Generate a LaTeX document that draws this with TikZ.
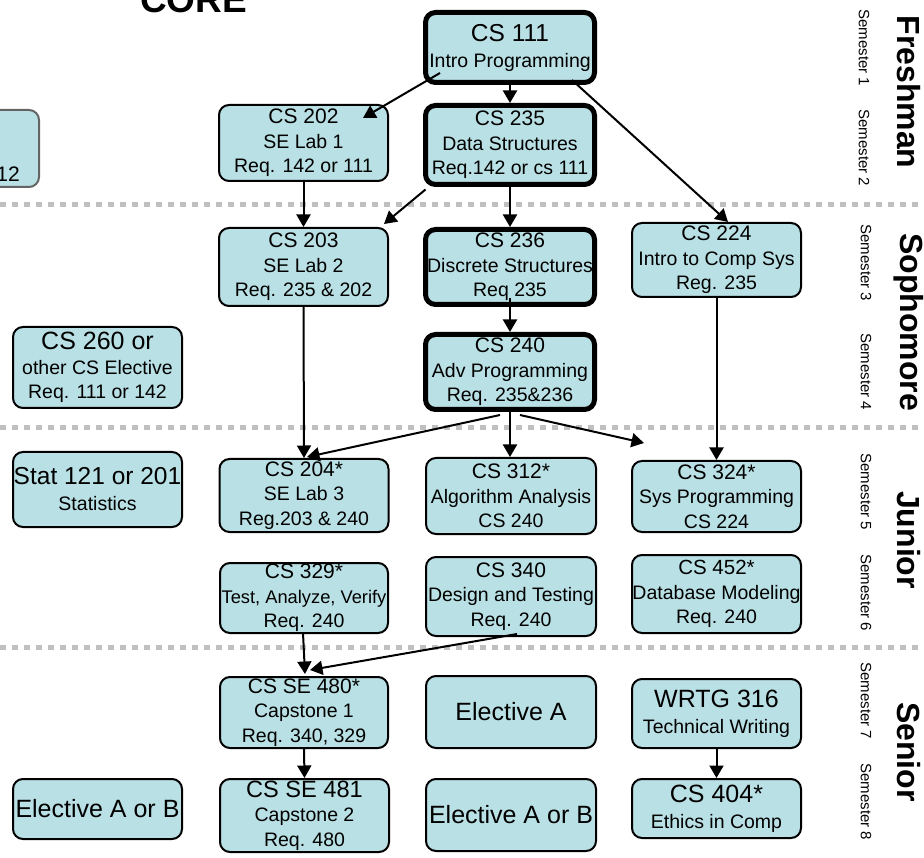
\documentclass[tikz,border=0pt]{standalone}
\usepackage{fontspec}
\setmainfont{Liberation Sans}
\usetikzlibrary{arrows.meta,calc}
\definecolor{boxfill}{RGB}{185,224,228}
\definecolor{sepgray}{RGB}{192,192,192}
\definecolor{edgegray}{RGB}{100,100,100}
\newcommand\fs[2]{\fontsize{#1}{#2}\selectfont}
\begin{document}
\begin{tikzpicture}[x=1pt,y=-1pt,
  box/.style={draw, line width=2pt, rounded corners=10pt, fill=boxfill, inner sep=0pt, align=center, font=\fs{19.5}{24.5}},
  twoline/.style={font=\fs{19.5}{26}},
  thickbox/.style={box, line width=5pt},
  arr/.style={line width=2pt, -{Triangle[length=12.5pt,width=14pt]}},
  sepline/.style={draw=sepgray, line width=5pt, dash pattern=on 6pt off 6pt},
  sem/.style={rotate=-90, font=\fs{15}{18}, inner sep=0pt},
  year/.style={rotate=-90, font=\bfseries\fs{32}{36}, inner sep=0pt},
]
\useasboundingbox (0,0) rectangle (924,858);
\clip (0,0) rectangle (924,858);

% separators
\draw[sepline] (0,205) -- (924,205);
\draw[sepline] (0,428) -- (924,428);
\draw[sepline] (0,647) -- (924,647);

% title
\node[anchor=base, font=\bfseries\fs{37}{40}, inner sep=0pt] (core) at (193.5,13) {CORE};

% partial box at left
\node[box, draw=edgegray, minimum width=169pt, minimum height=77pt] (prev) at (-45.5,148.5) {};
\node[anchor=base east, font=\fs{21}{24}, inner sep=0pt] (prevtxt) at (20,182) {12};

% boxes
\node[thickbox, twoline, minimum width=169pt, minimum height=70pt] (n111) at (510,47.5) {{\fs{24.5}{26}CS 111}\\Intro Programming};
\node[box, minimum width=169pt, minimum height=76pt] (n202) at (303.5,143) {{\fs{21}{24}CS 202}\\SE Lab 1\\Req. 142 or 111};
\node[thickbox, minimum width=169pt, minimum height=79pt] (n235) at (510,145) {{\fs{21}{24}CS 235}\\Data Structures\\Req.142 or cs 111};
\node[box, minimum width=169pt, minimum height=78pt] (n203) at (303.5,267) {{\fs{21}{24}CS 203}\\SE Lab 2\\Req. 235 \& 202};
\node[thickbox, minimum width=169pt, minimum height=75pt] (n236) at (510,267) {{\fs{21}{24}CS 236}\\Discrete Structures\\Req 235};
\node[box, minimum width=169pt, minimum height=74pt] (n224) at (716.5,260) {{\fs{21}{24}CS 224}\\Intro to Comp Sys\\Reg. 235};
\node[box, minimum width=169pt, minimum height=81pt] (n260) at (97.5,367.5) {{\fs{25}{24}CS 260 or}\\other CS Elective\\Req. 111 or 142};
\node[thickbox, minimum width=169pt, minimum height=75pt] (n240) at (510,372) {{\fs{21}{24}CS 240}\\Adv Programming\\Req. 235\&236};
\node[box, twoline, minimum width=169pt, minimum height=75pt] (nstat) at (97.5,489.5) {{\fs{24.5}{26}Stat 121 or 201}\\Statistics};
\node[box, minimum width=169pt, minimum height=73pt] (n204) at (304,495.5) {{\fs{21}{24}CS 204*}\\SE Lab 3\\Reg.203 \& 240};
\node[box, minimum width=170pt, minimum height=76pt] (n312) at (511,496) {{\fs{21}{24}CS 312*}\\Algorithm Analysis\\CS 240};
\node[box, minimum width=169pt, minimum height=71pt] (n324) at (716.5,496.5) {{\fs{21}{24}CS 324*}\\Sys Programming\\CS 224};
\node[box, minimum width=168pt, minimum height=70pt] (n329) at (304,598) {{\fs{21}{24}CS 329*}\\{\fs{18.3}{24}Test, Analyze, Verify}\\Req. 240};
\node[box, minimum width=170pt, minimum height=79pt] (n340) at (511,596.5) {{\fs{21}{24}CS 340}\\Design and Testing\\Req. 240};
\node[box, minimum width=169pt, minimum height=78pt] (n452) at (716.5,594) {{\fs{20.5}{24}CS 452*}\\Database Modeling\\Req. 240};
\node[box, minimum width=168pt, minimum height=71pt] (n480) at (304,712.5) {{\fs{21}{24}CS SE 480*}\\Capstone 1\\Req. 340, 329};
\node[box, minimum width=170pt, minimum height=72pt] (nelA) at (511,712) {{\fs{25}{26}Elective A}};
\node[box, twoline, minimum width=169pt, minimum height=69pt] (nwrtg) at (716.5,713.5) {{\fs{25}{26}WRTG 316}\\Technical Writing};
\node[box, minimum width=169pt, minimum height=60pt] (nelL) at (97.5,809) {{\fs{25}{26}Elective A or B}};
\node[box, minimum width=169pt, minimum height=73pt] (n481) at (304.5,815.5) {{\fs{23.6}{24}CS SE 481}\\Capstone 2\\Req. 480};
\node[box, minimum width=170pt, minimum height=72pt] (nelM) at (511,815) {{\fs{25}{26}Elective A or B}};
\node[box, twoline, minimum width=169pt, minimum height=59pt] (n404) at (716.5,808.5) {{\fs{25}{26}CS 404*}\\Ethics in Comp};

% semester labels
\node[sem] (s1) at (864,48) {Semester 1};
\node[sem] (s2) at (864,148) {Semester 2};
\node[sem] (s3) at (866,263) {Semester 3};
\node[sem] (s4) at (866,372) {Semester 4};
\node[sem] (s5) at (866,492) {Semester 5};
\node[sem] (s6) at (866,593) {Semester 6};
\node[sem] (s7) at (866,701) {Semester 7};
\node[sem] (s8) at (866,802) {Semester 8};
\node[year] (y1) at (909,92) {Freshman};
\node[year] (y2) at (909,322) {Sophomore};
\node[year] (y3) at (909,540) {Junior};
\node[year] (y4) at (909,752) {Senior};

% connectors
\draw[arr] ($(n111)+(-70,25.5)$) -- ($(n202)+(59.5,-25)$);
\draw[arr] (n111.south) -- (n235.north);
\draw[arr] ($(n111)+(62,32.5)$) -- ($(n224.north)+(11.5,0)$);
\draw[arr] (n202.south) -- (n203.north);
\draw[arr] ($(n235.south west)+(2.5,2.5)$) -- ($(n203.north east)+(-5,-3)$);
\draw[arr] (n235.south) -- (n236.north);
\draw[arr] ($(n236.south)+(0,-9)$) -- (n240.north);
\draw[arr] (n203.south) -- (n204.north);
\draw[arr] ($(n240.south)+(-10,3)$) -- ($(n204.north)+(3,-1)$);
\draw[arr] (n240.south) -- (n240.south |- n312.north);
\draw[arr] ($(n240.south)+(10,3)$) -- ($(n324.north west)+(13,-17)$);
\draw[arr] (n224.south) -- (n324.north);
\draw[arr] ($(n329.south)+(-1,-1)$) -- ($(n480.north)+(1,-2)$);
\draw[arr] ($(n340.south)+(6,-3)$) -- ($(n480.north)+(6,-6)$);
\draw[arr] (n480.south) -- (n481.north);
\draw[arr] (nwrtg.south) -- (n404.north);
\end{tikzpicture}
\end{document}
